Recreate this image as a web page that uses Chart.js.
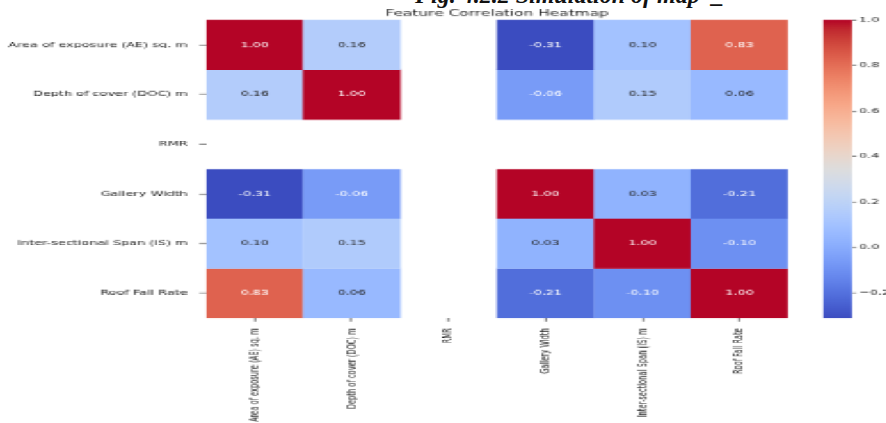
<!DOCTYPE html>
<html>
<head>
<meta charset="utf-8">
<title>Feature Correlation Heatmap</title>
<script src="https://cdn.jsdelivr.net/npm/chart.js@4.4.1/dist/chart.umd.min.js"></script>
<style>
  html, body { margin: 0; padding: 0; background: #fff; width: 886px; height: 423px; overflow: hidden; }
  /* the figure is laid out in its own units and scaled onto the page */
  #figure {
    position: absolute; left: 0; top: 0;
    width: 692.19px; height: 631.34px;
    transform: scale(1.28, 0.67); transform-origin: 0 0;
    overflow: hidden;
  }
  #heatBox { position: absolute; left: 0; top: 0; width: 692.19px; height: 631.34px; }
  #cbarBox { position: absolute; left: 630px; top: 0; width: 100px; height: 631.34px; }
  #caption {
    position: absolute; left: 415px; top: -17px;
    font: italic bold 24px 'Liberation Serif', serif; line-height: 24px;
    color: #111; white-space: pre;
  }
</style>
</head>
<body>
<div id="caption">Fig. 4.2.2 Simulation of map  _</div>
<div id="figure">
  <div id="heatBox"><canvas id="heat"></canvas></div>
  <div id="cbarBox"><canvas id="cbar"></canvas></div>
</div>
<script>
// ---- data -------------------------------------------------------------
const features = [
  'Area of exposure (AE) sq. m',
  'Depth of cover (DOC) m',
  'RMR',
  'Gallery Width',
  'Inter-sectional Span (IS) m',
  'Roof Fall Rate'
];
// Pearson correlations, one row per feature (RMR is constant -> undefined)
const rowAE  = [ 1.00,  0.16, null, -0.31,  0.10,  0.83];
const rowDOC = [ 0.16,  1.00, null, -0.06,  0.15,  0.06];
const rowRMR = [ null,  null, null,  null,  null,  null];
const rowGW  = [-0.31, -0.06, null,  1.00,  0.03, -0.21];
const rowIS  = [ 0.10,  0.15, null,  0.03,  1.00, -0.10];
const rowRFR = [ 0.83,  0.06, null, -0.21, -0.10,  1.00];
const corrRows = [rowAE, rowDOC, rowRMR, rowGW, rowIS, rowRFR];
const cbarTicks = [-0.2, 0.0, 0.2, 0.4, 0.6, 0.8, 1.0];
const chartTitle = 'Feature Correlation Heatmap';

// ---- colour map (coolwarm) --------------------------------------------
const COOLWARM = [
  [0.0, 59, 76, 192], [0.03125, 68, 90, 204], [0.0625, 77, 104, 215], [0.09375, 87, 117, 225],
  [0.125, 98, 130, 234], [0.15625, 108, 142, 241], [0.1875, 119, 154, 247], [0.21875, 130, 165, 251],
  [0.25, 141, 176, 254], [0.28125, 152, 185, 255], [0.3125, 163, 194, 255], [0.34375, 174, 201, 253],
  [0.375, 184, 208, 249], [0.40625, 194, 213, 244], [0.4375, 204, 217, 238], [0.46875, 213, 219, 230],
  [0.5, 221, 221, 221], [0.53125, 229, 216, 209], [0.5625, 236, 211, 197], [0.59375, 241, 204, 185],
  [0.625, 245, 196, 173], [0.65625, 247, 187, 160], [0.6875, 247, 177, 148], [0.71875, 247, 166, 135],
  [0.75, 244, 154, 123], [0.78125, 241, 141, 111], [0.8125, 236, 127, 99], [0.84375, 229, 112, 88],
  [0.875, 222, 96, 77], [0.90625, 213, 80, 66], [0.9375, 203, 62, 56], [0.96875, 192, 40, 47],
  [1.0, 180, 4, 38]
];
function coolwarmRGB(t) {
  t = Math.max(0, Math.min(1, t));
  for (let i = 1; i < COOLWARM.length; i++) {
    const a = COOLWARM[i - 1], b = COOLWARM[i];
    if (t <= b[0]) {
      const f = (t - a[0]) / (b[0] - a[0]);
      return [1, 2, 3].map(k => Math.round(a[k] + (b[k] - a[k]) * f));
    }
  }
  return COOLWARM[COOLWARM.length - 1].slice(1);
}
const allValues = corrRows.flat().filter(v => v !== null);
const vmin = Math.min(...allValues);
const vmax = Math.max(...allValues);
const norm = v => (v - vmin) / (vmax - vmin);
const rgbStr = c => `rgb(${c[0]},${c[1]},${c[2]})`;
function luminance(c) {
  const lin = c.map(x => { x /= 255; return x <= 0.03928 ? x / 12.92 : Math.pow((x + 0.055) / 1.055, 2.4); });
  return 0.2126 * lin[0] + 0.7152 * lin[1] + 0.0722 * lin[2];
}

// ---- shared styling ---------------------------------------------------
// backing store kept 1:1 with the page vertically; the horizontal stretch comes from the CSS scale
const DPR = 0.67;
const FONT = "'DejaVu Sans', sans-serif";
const INK = '#1a1a1a';
const tickFont = { family: FONT, size: 10 };

// ---- heatmap ----------------------------------------------------------
const heatDatasets = corrRows.map((row, r) => ({
  label: features[r],
  data: row.map(v => (v === null ? null : [r, r + 1])),
  backgroundColor: row.map(v => (v === null ? 'rgba(0,0,0,0)' : rgbStr(coolwarmRGB(norm(v))))),
  borderWidth: 0,
  barPercentage: 1,
  categoryPercentage: 1,
  grouped: false
}));

const cellLabels = {
  id: 'cellLabels',
  afterDatasetsDraw(chart) {
    const ctx = chart.ctx;
    ctx.save();
    ctx.font = `10px ${FONT}`;
    ctx.textAlign = 'center';
    ctx.textBaseline = 'middle';
    corrRows.forEach((row, r) => {
      const meta = chart.getDatasetMeta(r);
      row.forEach((v, c) => {
        if (v === null) return;
        const bar = meta.data[c];
        const p = bar.getProps(['x', 'y', 'base'], true);
        const rgb = coolwarmRGB(norm(v));
        ctx.fillStyle = luminance(rgb) > 0.408 ? '#262626' : '#ffffff';
        ctx.fillText(v.toFixed(2), p.x, (p.y + p.base) / 2);
      });
    });
    ctx.restore();
  }
};

const heatTitle = {
  id: 'heatTitle',
  afterDraw(chart) {
    const { ctx, chartArea } = chart;
    ctx.save();
    ctx.font = `12px ${FONT}`;
    ctx.fillStyle = INK;
    ctx.textAlign = 'center';
    ctx.textBaseline = 'alphabetic';
    ctx.fillText(chartTitle, (chartArea.left + chartArea.right) / 2, chartArea.top - 5.5);
    ctx.restore();
  }
};

new Chart(document.getElementById('heat'), {
  type: 'bar',
  data: { labels: features, datasets: heatDatasets },
  options: {
    devicePixelRatio: DPR,
    responsive: true,
    maintainAspectRatio: false,
    animation: false,
    events: [],
    layout: { padding: { left: 0, top: 29.85, right: 77.5, bottom: 0 } },
    plugins: { legend: { display: false }, tooltip: { enabled: false }, title: { display: false } },
    scales: {
      x: {
        type: 'category',
        offset: true,
        ticks: { autoSkip: false, maxRotation: 90, minRotation: 90, font: tickFont, color: INK, padding: 10 },
        grid: { offset: false, drawOnChartArea: false, drawTicks: true, tickLength: 5, color: '#333', lineWidth: 1 },
        border: { display: false },
        afterFit(scale) { scale.height = 156.2; }
      },
      y: {
        type: 'linear',
        min: 0,
        max: features.length,
        reverse: true,
        afterBuildTicks(scale) { scale.ticks = features.map((_, i) => ({ value: i + 0.5 })); },
        ticks: { autoSkip: false, font: tickFont, color: INK, padding: 9, callback: v => features[Math.floor(v)] },
        grid: { drawOnChartArea: false, drawTicks: true, tickLength: 5.5, color: '#333', lineWidth: 1 },
        border: { display: false },
        afterFit(scale) { scale.width = 160.94; }
      }
    }
  },
  plugins: [cellLabels, heatTitle]
});

// ---- colour bar -------------------------------------------------------
function barGradient(chart) {
  const area = chart.chartArea;
  if (!area) return 'rgba(0,0,0,0)';
  const g = chart.ctx.createLinearGradient(0, area.bottom, 0, area.top);
  COOLWARM.forEach(s => g.addColorStop(s[0], `rgb(${s[1]},${s[2]},${s[3]})`));
  return g;
}
const fmtTick = v => (v < -1e-9 ? '\u2212' : '') + Math.abs(v).toFixed(1);

new Chart(document.getElementById('cbar'), {
  type: 'bar',
  data: {
    labels: [''],
    datasets: [{
      data: [[vmin, vmax]],
      backgroundColor: ctx => barGradient(ctx.chart),
      borderWidth: 0,
      barPercentage: 1,
      categoryPercentage: 1
    }]
  },
  options: {
    devicePixelRatio: DPR,
    responsive: true,
    maintainAspectRatio: false,
    animation: false,
    events: [],
    layout: { padding: { left: 13, top: 29.85, right: 0, bottom: 156.2 } },
    plugins: { legend: { display: false }, tooltip: { enabled: false } },
    scales: {
      x: { display: false },
      y: {
        position: 'right',
        min: vmin,
        max: vmax,
        afterBuildTicks(scale) { scale.ticks = cbarTicks.map(v => ({ value: v })); },
        ticks: { font: tickFont, color: INK, padding: 2, callback: v => fmtTick(v) },
        grid: { drawOnChartArea: false, drawTicks: true, tickLength: 3.5, color: '#333', lineWidth: 1 },
        border: { display: false },
        afterFit(scale) { scale.width = 64.4; }
      }
    }
  }
});
</script>
</body>
</html>
